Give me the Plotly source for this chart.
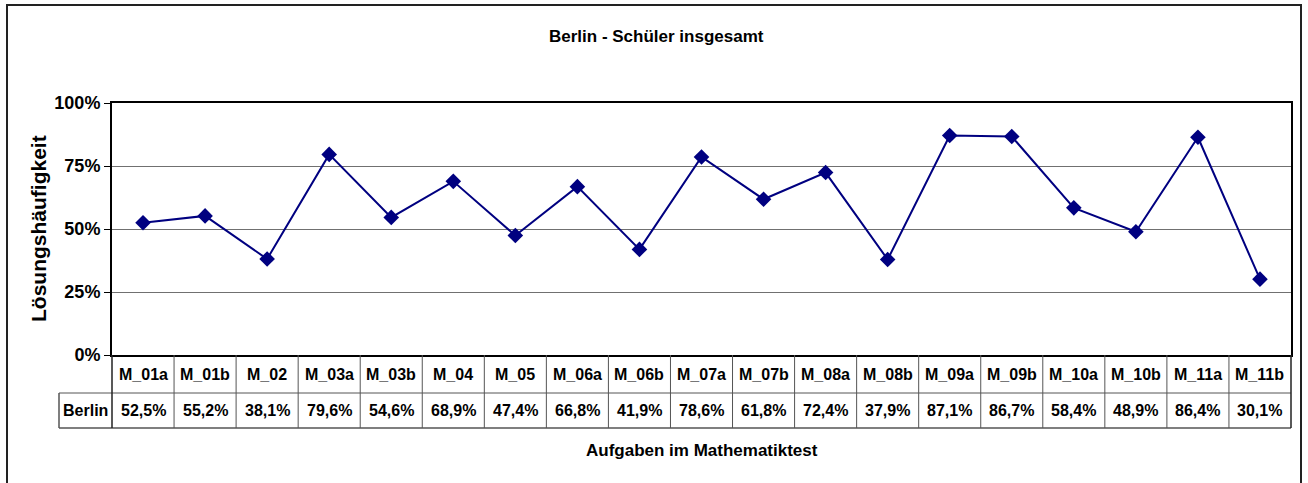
import plotly.graph_objects as go

categories = ["M_01a", "M_01b", "M_02", "M_03a", "M_03b", "M_04", "M_05", "M_06a", "M_06b",
              "M_07a", "M_07b", "M_08a", "M_08b", "M_09a", "M_09b", "M_10a", "M_10b", "M_11a", "M_11b"]
berlin = [52.5, 55.2, 38.1, 79.6, 54.6, 68.9, 47.4, 66.8, 41.9,
          78.6, 61.8, 72.4, 37.9, 87.1, 86.7, 58.4, 48.9, 86.4, 30.1]
series_name = "Berlin"
y_ticks = [0, 25, 50, 75, 100]
title = "Berlin - Schüler insgesamt"
y_title = "Lösungshäufigkeit"
x_title = "Aufgaben im Mathematiktest"

W, H = 1308, 483
L, R, T, B = 112, 17, 103, 128
PW, PH = W - L - R, H - T - B
FONT = "Liberation Sans, Arial, sans-serif"


def px(xpix):
    return (xpix - L) / PW


def py(ypix):
    return (H - B - ypix) / PH


n = len(categories)
idx = list(range(n))

fig = go.Figure()
fig.add_trace(go.Scatter(
    x=idx, y=berlin, mode="lines+markers", name=series_name,
    line=dict(color="#000080", width=2),
    marker=dict(symbol="diamond", size=12, color="#000080"),
    cliponaxis=False, showlegend=False,
))

shapes = []
tcol = "#555555"
row1_bot = py(393)
row2_bot = py(428)
berlin_left = px(59)
# horizontal lines of the table
shapes.append(dict(type="line", xref="paper", yref="paper", x0=berlin_left, x1=1,
                   y0=row1_bot, y1=row1_bot, line=dict(color=tcol, width=1)))
shapes.append(dict(type="line", xref="paper", yref="paper", x0=berlin_left, x1=1,
                   y0=row2_bot, y1=row2_bot, line=dict(color=tcol, width=1.5)))
# vertical lines
for k in range(n + 1):
    shapes.append(dict(type="line", xref="paper", yref="paper", x0=k / n, x1=k / n,
                       y0=0, y1=row2_bot,
                       line=dict(color=tcol if 0 < k < n else "#222222", width=1 if 0 < k < n else 1.5)))
shapes.append(dict(type="line", xref="paper", yref="paper", x0=berlin_left, x1=berlin_left,
                   y0=row1_bot, y1=row2_bot, line=dict(color=tcol, width=1.5)))
# outer chart border
shapes.append(dict(type="rect", xref="paper", yref="paper", x0=px(7), x1=px(1301),
                   y0=py(490), y1=py(5), line=dict(color="#222222", width=2),
                   fillcolor="rgba(0,0,0,0)", layer="below"))

annotations = []
tfont = dict(family=FONT, size=16, color="black", weight="bold")
for i, (c, v) in enumerate(zip(categories, berlin)):
    annotations.append(dict(x=i, xref="x", y=py(374.5), yref="paper", text=c,
                            showarrow=False, font=tfont, xanchor="center", yanchor="middle"))
    annotations.append(dict(x=i, xref="x", y=py(410.5), yref="paper",
                            text=f"{v:.1f}".replace(".", ",") + "%",
                            showarrow=False, font=tfont, xanchor="center", yanchor="middle"))
annotations.append(dict(x=px(85.5), xref="paper", y=py(410.5), yref="paper", text=series_name,
                        showarrow=False, font=tfont, xanchor="center", yanchor="middle"))
annotations.append(dict(x=px(656), xref="paper", y=py(36), yref="paper", text=title,
                        showarrow=False, font=dict(family=FONT, size=17, color="black", weight="bold"),
                        xanchor="center", yanchor="middle"))
annotations.append(dict(x=px(702), xref="paper", y=py(450), yref="paper", text=x_title,
                        showarrow=False, font=dict(family=FONT, size=17, color="black", weight="bold"),
                        xanchor="center", yanchor="middle"))
annotations.append(dict(x=px(38), xref="paper", y=py(229), yref="paper", text=y_title,
                        showarrow=False, textangle=-90,
                        font=dict(family=FONT, size=21, color="black", weight="bold"),
                        xanchor="center", yanchor="middle"))

fig.update_layout(
    width=W, height=H,
    margin=dict(l=L, r=R, t=T, b=B, pad=0),
    paper_bgcolor="white", plot_bgcolor="white",
    font=dict(family=FONT, color="black"),
    shapes=shapes, annotations=annotations,
    xaxis=dict(range=[-0.5, n - 0.5], showgrid=False, zeroline=False, showticklabels=False,
               ticks="", showline=True, linecolor="black", linewidth=2, mirror=True, fixedrange=True),
    yaxis=dict(range=[0, 100], tickvals=y_ticks, ticktext=[f"{t}%" for t in y_ticks],
               showgrid=True, gridcolor="#707070", gridwidth=1, zeroline=False,
               ticks="outside", ticklen=6, tickcolor="black", tickwidth=1,
               tickfont=dict(family=FONT, size=18, color="black", weight="bold"),
               showline=True, linecolor="black", linewidth=2, mirror=True, fixedrange=True),
)

fig.write_html("out.html", config={"displayModeBar": False},
               post_script="document.body.style.margin='0';")
